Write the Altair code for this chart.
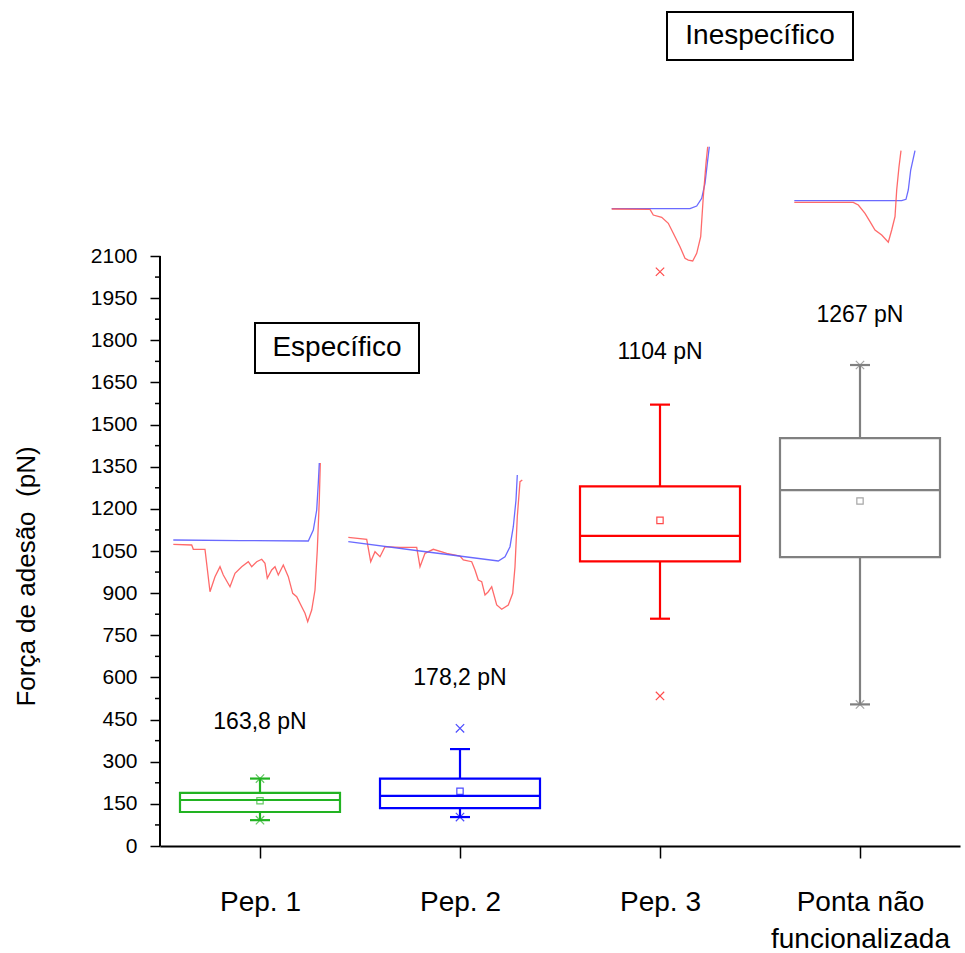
import json
import altair as alt
import pandas as pd

# ---------------- data ----------------
categories = ["Pep. 1", "Pep. 2", "Pep. 3", "Ponta não funcionalizada"]
axis_label_lines = [["Pep. 1"], ["Pep. 2"], ["Pep. 3"], ["Ponta não", "funcionalizada"]]
box_colors = ["#22b322", "#0000ff", "#ff0000", "#808080"]
q1 = [121, 135, 1013, 1028]
q3 = [189, 240, 1280, 1452]
medians = [163.8, 178.2, 1104, 1267]
means = [161, 195, 1159, 1228]
whisker_low = [92, 103, 809, 504]
whisker_high = [240, 345, 1571, 1712]
median_labels = ["163,8 pN", "178,2 pN", "1104 pN", "1267 pN"]

# min / max markers (category index, value)
extreme_group = [0, 0, 1, 1, 2, 2, 3, 3]
extreme_values = [92, 240, 103, 419, 534, 2044, 504, 1712]

# inset force curves (x in category-axis units, y in pN)
pep1_approach_x = [0.0665, 0.40, 0.7415, 0.7665, 0.7835, 0.7915, 0.7965]
pep1_approach_y = [1089.2, 1087.0, 1085.6, 1124.7, 1195.9, 1292.0, 1363.2]
pep1_retract_x = [0.0665, 0.1585, 0.1665, 0.225, 0.25, 0.275, 0.30, 0.3165, 0.35, 0.375,
                  0.4085, 0.4415, 0.4585, 0.4835, 0.5085, 0.525, 0.5365, 0.5585, 0.575,
                  0.5915, 0.6165, 0.6415, 0.6635, 0.6835, 0.7085, 0.725, 0.7385, 0.7585,
                  0.775, 0.7865, 0.7965, 0.8015]
pep1_retract_y = [1073.8, 1071.4, 1056.0, 1056.0, 905.1, 958.5, 994.1, 964.6, 922.9, 970.6,
                  994.1, 1011.9, 994.1, 1011.9, 1020.5, 1006.2, 952.8, 982.4, 994.1,
                  964.6, 1000.2, 958.5, 899.4, 887.3, 851.7, 828.2, 798.4, 840.0,
                  911.2, 1053.6, 1231.5, 1363.2]

pep2_approach_x = [0.9415, 1.30, 1.6915, 1.725, 1.75, 1.7665, 1.78, 1.7865]
pep2_approach_y = [1083.1, 1050.0, 1014.4, 1029.7, 1065.3, 1136.5, 1231.5, 1320.5]
pep2_retract_x = [0.9415, 1.0335, 1.0535, 1.075, 1.10, 1.125, 1.20, 1.2835, 1.30, 1.325,
                  1.3665, 1.4335, 1.50, 1.5165, 1.5585, 1.575, 1.5915, 1.6085, 1.625,
                  1.6415, 1.6585, 1.6835, 1.7085, 1.7415, 1.7635, 1.775, 1.7865, 1.80, 1.8115]
pep2_retract_y = [1098.8, 1091.6, 1011.9, 1047.5, 1029.7, 1065.3, 1063.2, 1063.2, 994.1, 1041.8,
                  1056.0, 1041.8, 1032.2, 1018.0, 1011.9, 982.4, 946.8, 940.7, 893.4,
                  905.1, 922.9, 857.8, 842.5, 857.8, 899.4, 994.1, 1172.1, 1296.7, 1302.7]

pep3_approach_x = [2.2585, 2.65, 2.6835, 2.7085, 2.725, 2.7365, 2.7465]
pep3_approach_y = [2268.3, 2268.3, 2278.0, 2305.4, 2358.8, 2429.9, 2489.0]
pep3_retract_x = [2.2585, 2.45, 2.4665, 2.5085, 2.5415, 2.5665, 2.60, 2.625, 2.6415,
                  2.6635, 2.6835, 2.7035, 2.7165, 2.73, 2.7385]
pep3_retract_y = [2267.3, 2266.2, 2245.9, 2237.7, 2216.4, 2180.8, 2133.1, 2091.8, 2085.7,
                  2082.2, 2109.6, 2168.7, 2311.1, 2429.9, 2489.0]

ponta_approach_x = [3.1715, 3.7085, 3.73, 3.7415, 3.7535, 3.775]
ponta_approach_y = [2296.8, 2296.8, 2301.8, 2334.9, 2406.1, 2474.8]
ponta_retract_x = [3.1715, 3.4665, 3.4915, 3.525, 3.55, 3.575, 3.6085, 3.6415, 3.6585,
                   3.675, 3.6835, 3.695, 3.705]
ponta_retract_y = [2291.1, 2291.1, 2281.5, 2252.0, 2222.1, 2192.5, 2174.7, 2148.8, 2192.5,
                   2239.9, 2334.9, 2417.8, 2474.8]

annotation_texts = ["Específico", "Inespecífico"]

# ---------------- tables ----------------
xc = [i + 0.5 for i in range(len(categories))]
box_df = pd.DataFrame({
    "cat": categories, "xc": xc,
    "xl": [c - 0.4 for c in xc], "xr": [c + 0.4 for c in xc],
    "cl": [c - 0.05 for c in xc], "cr": [c + 0.05 for c in xc],
    "q1": q1, "q3": q3, "med": medians, "mean": means,
    "wlo": whisker_low, "whi": whisker_high,
    "color": box_colors, "label": median_labels,
    "label_y": [441, 598, 1758, 1890],
})

ext_df = pd.DataFrame({
    "x": [xc[g] for g in extreme_group],
    "v": extreme_values,
    "color": [box_colors[g] for g in extreme_group],
})

curves = [
    (pep1_retract_x, pep1_retract_y, "#ff5a5a"), (pep1_approach_x, pep1_approach_y, "#5a5aff"),
    (pep2_retract_x, pep2_retract_y, "#ff5a5a"), (pep2_approach_x, pep2_approach_y, "#5a5aff"),
    (pep3_approach_x, pep3_approach_y, "#5a5aff"), (pep3_retract_x, pep3_retract_y, "#ff5a5a"),
    (ponta_approach_x, ponta_approach_y, "#5a5aff"), (ponta_retract_x, ponta_retract_y, "#ff5a5a"),
]
rows = []
for cid, (cx, cy, colr) in enumerate(curves):
    for k, (a, b) in enumerate(zip(cx, cy)):
        rows.append({"curve": cid, "k": k, "x": a, "y": b, "color": colr})
curve_df = pd.DataFrame(rows)

ann_df = pd.DataFrame({
    "text": annotation_texts,
    "x0": [0.475, 2.535], "x1": [1.295, 3.465],
    "y0": [1683.5, 2797.6], "y1": [1861.5, 2968.5],
    "tx": [0.885, 3.0], "ty": [1772.5, 2883.0],
})

axis_df = pd.DataFrame({"x0": [0.0], "lo": [0.0], "hi": [2100.0]})
minor_df = pd.DataFrame({"v": [75 + 150 * i for i in range(14)]})

# ---------------- scales / axes ----------------
FONT = "Liberation Sans"
X_SCALE = alt.Scale(domain=[0, 4], nice=False, zero=False)
Y_SCALE = alt.Scale(domain=[0, 3011.2], nice=False, zero=False)

label_expr = json.dumps(axis_label_lines, ensure_ascii=False) + "[floor(datum.value)]"
X_AXIS = alt.Axis(values=xc, labelExpr=label_expr, title="", grid=False,
                  tickSize=12, tickWidth=1.5, tickColor="black",
                  domainColor="black", domainWidth=2,
                  labelFont=FONT, labelFontSize=28, labelColor="black",
                  labelPadding=30, labelLineHeight=37, labelAngle=0)
Y_AXIS = alt.Axis(values=[150 * i for i in range(15)], format="d",
                  title="Força de adesão\u00a0 (pN)",
                  grid=False, domain=False, tickSize=10, tickWidth=1.5, tickColor="black",
                  labelFont=FONT, labelFontSize=21, labelColor="black", labelPadding=13,
                  titleFont=FONT, titleFontSize=26, titleFontWeight="normal", titleColor="black",
                  titleX=-134, titleY=576, titleAngle=270, titleAlign="center",
                  titleBaseline="middle")


def X(f):
    return alt.X(f, type="quantitative", scale=X_SCALE, axis=X_AXIS)


def Y(f):
    return alt.Y(f, type="quantitative", scale=Y_SCALE, axis=Y_AXIS)


col = alt.Color("color:N", scale=None)
stk = alt.Stroke("color:N", scale=None)

base = alt.Chart(box_df)

insets = alt.Chart(curve_df).mark_line(strokeWidth=1.3, opacity=0.9, interpolate="linear").encode(
    x=X("x"), y=Y("y"), detail="curve:N", order="k:Q", stroke=stk)

boxes = base.mark_rect(fillOpacity=0, strokeWidth=2.2).encode(
    x=X("xl"), x2="xr", y=Y("q1"), y2="q3", stroke=stk)
med = base.mark_rule(strokeWidth=2.2).encode(x=X("xl"), x2="xr", y=Y("med"), color=col)
wh_hi = base.mark_rule(strokeWidth=2.2).encode(x=X("xc"), y=Y("q3"), y2="whi", color=col)
wh_lo = base.mark_rule(strokeWidth=2.2).encode(x=X("xc"), y=Y("q1"), y2="wlo", color=col)
cap_hi = base.mark_rule(strokeWidth=2.2).encode(x=X("cl"), x2="cr", y=Y("whi"), color=col)
cap_lo = base.mark_rule(strokeWidth=2.2).encode(x=X("cl"), x2="cr", y=Y("wlo"), color=col)
mean_pt = base.mark_point(shape="square", size=40, filled=False, strokeWidth=1.2, opacity=0.7).encode(
    x=X("xc"), y=Y("mean"), color=col)
extremes = alt.Chart(ext_df).mark_point(shape="M-1,-1L1,1M-1,1L1,-1", size=70, filled=False,
                                        strokeWidth=1.2, opacity=0.7).encode(
    x=X("x"), y=Y("v"), color=col)
labels = base.mark_text(font=FONT, fontSize=23, color="black", baseline="middle").encode(
    x=X("xc"), y=Y("label_y"), text="label:N")

ann_box = alt.Chart(ann_df).mark_rect(fill="white", stroke="black", strokeWidth=2).encode(
    x=X("x0"), x2="x1", y=Y("y0"), y2="y1")
ann_txt = alt.Chart(ann_df).mark_text(font=FONT, fontSize=28, color="black", baseline="middle").encode(
    x=X("tx"), y=Y("ty"), text="text:N")

y_line = alt.Chart(axis_df).mark_rule(strokeWidth=2, color="black").encode(
    x=X("x0"), y=Y("lo"), y2="hi")
minor = alt.Chart(minor_df).mark_rule(strokeWidth=1.5, color="black").encode(
    x=alt.value(-5), x2=alt.value(0), y=Y("v"))

chart = alt.layer(
    insets, boxes, med, wh_hi, wh_lo, cap_hi, cap_lo, mean_pt, extremes, labels,
    ann_box, ann_txt, y_line, minor
).properties(
    width=800, height=846,
    autosize=alt.AutoSizeParams(type="none"),
    padding={"left": 160, "top": 0, "right": 5, "bottom": 107},
    background="white",
).configure_view(stroke=None)

chart.save("out.html", embed_options={"renderer": "svg", "actions": False})
